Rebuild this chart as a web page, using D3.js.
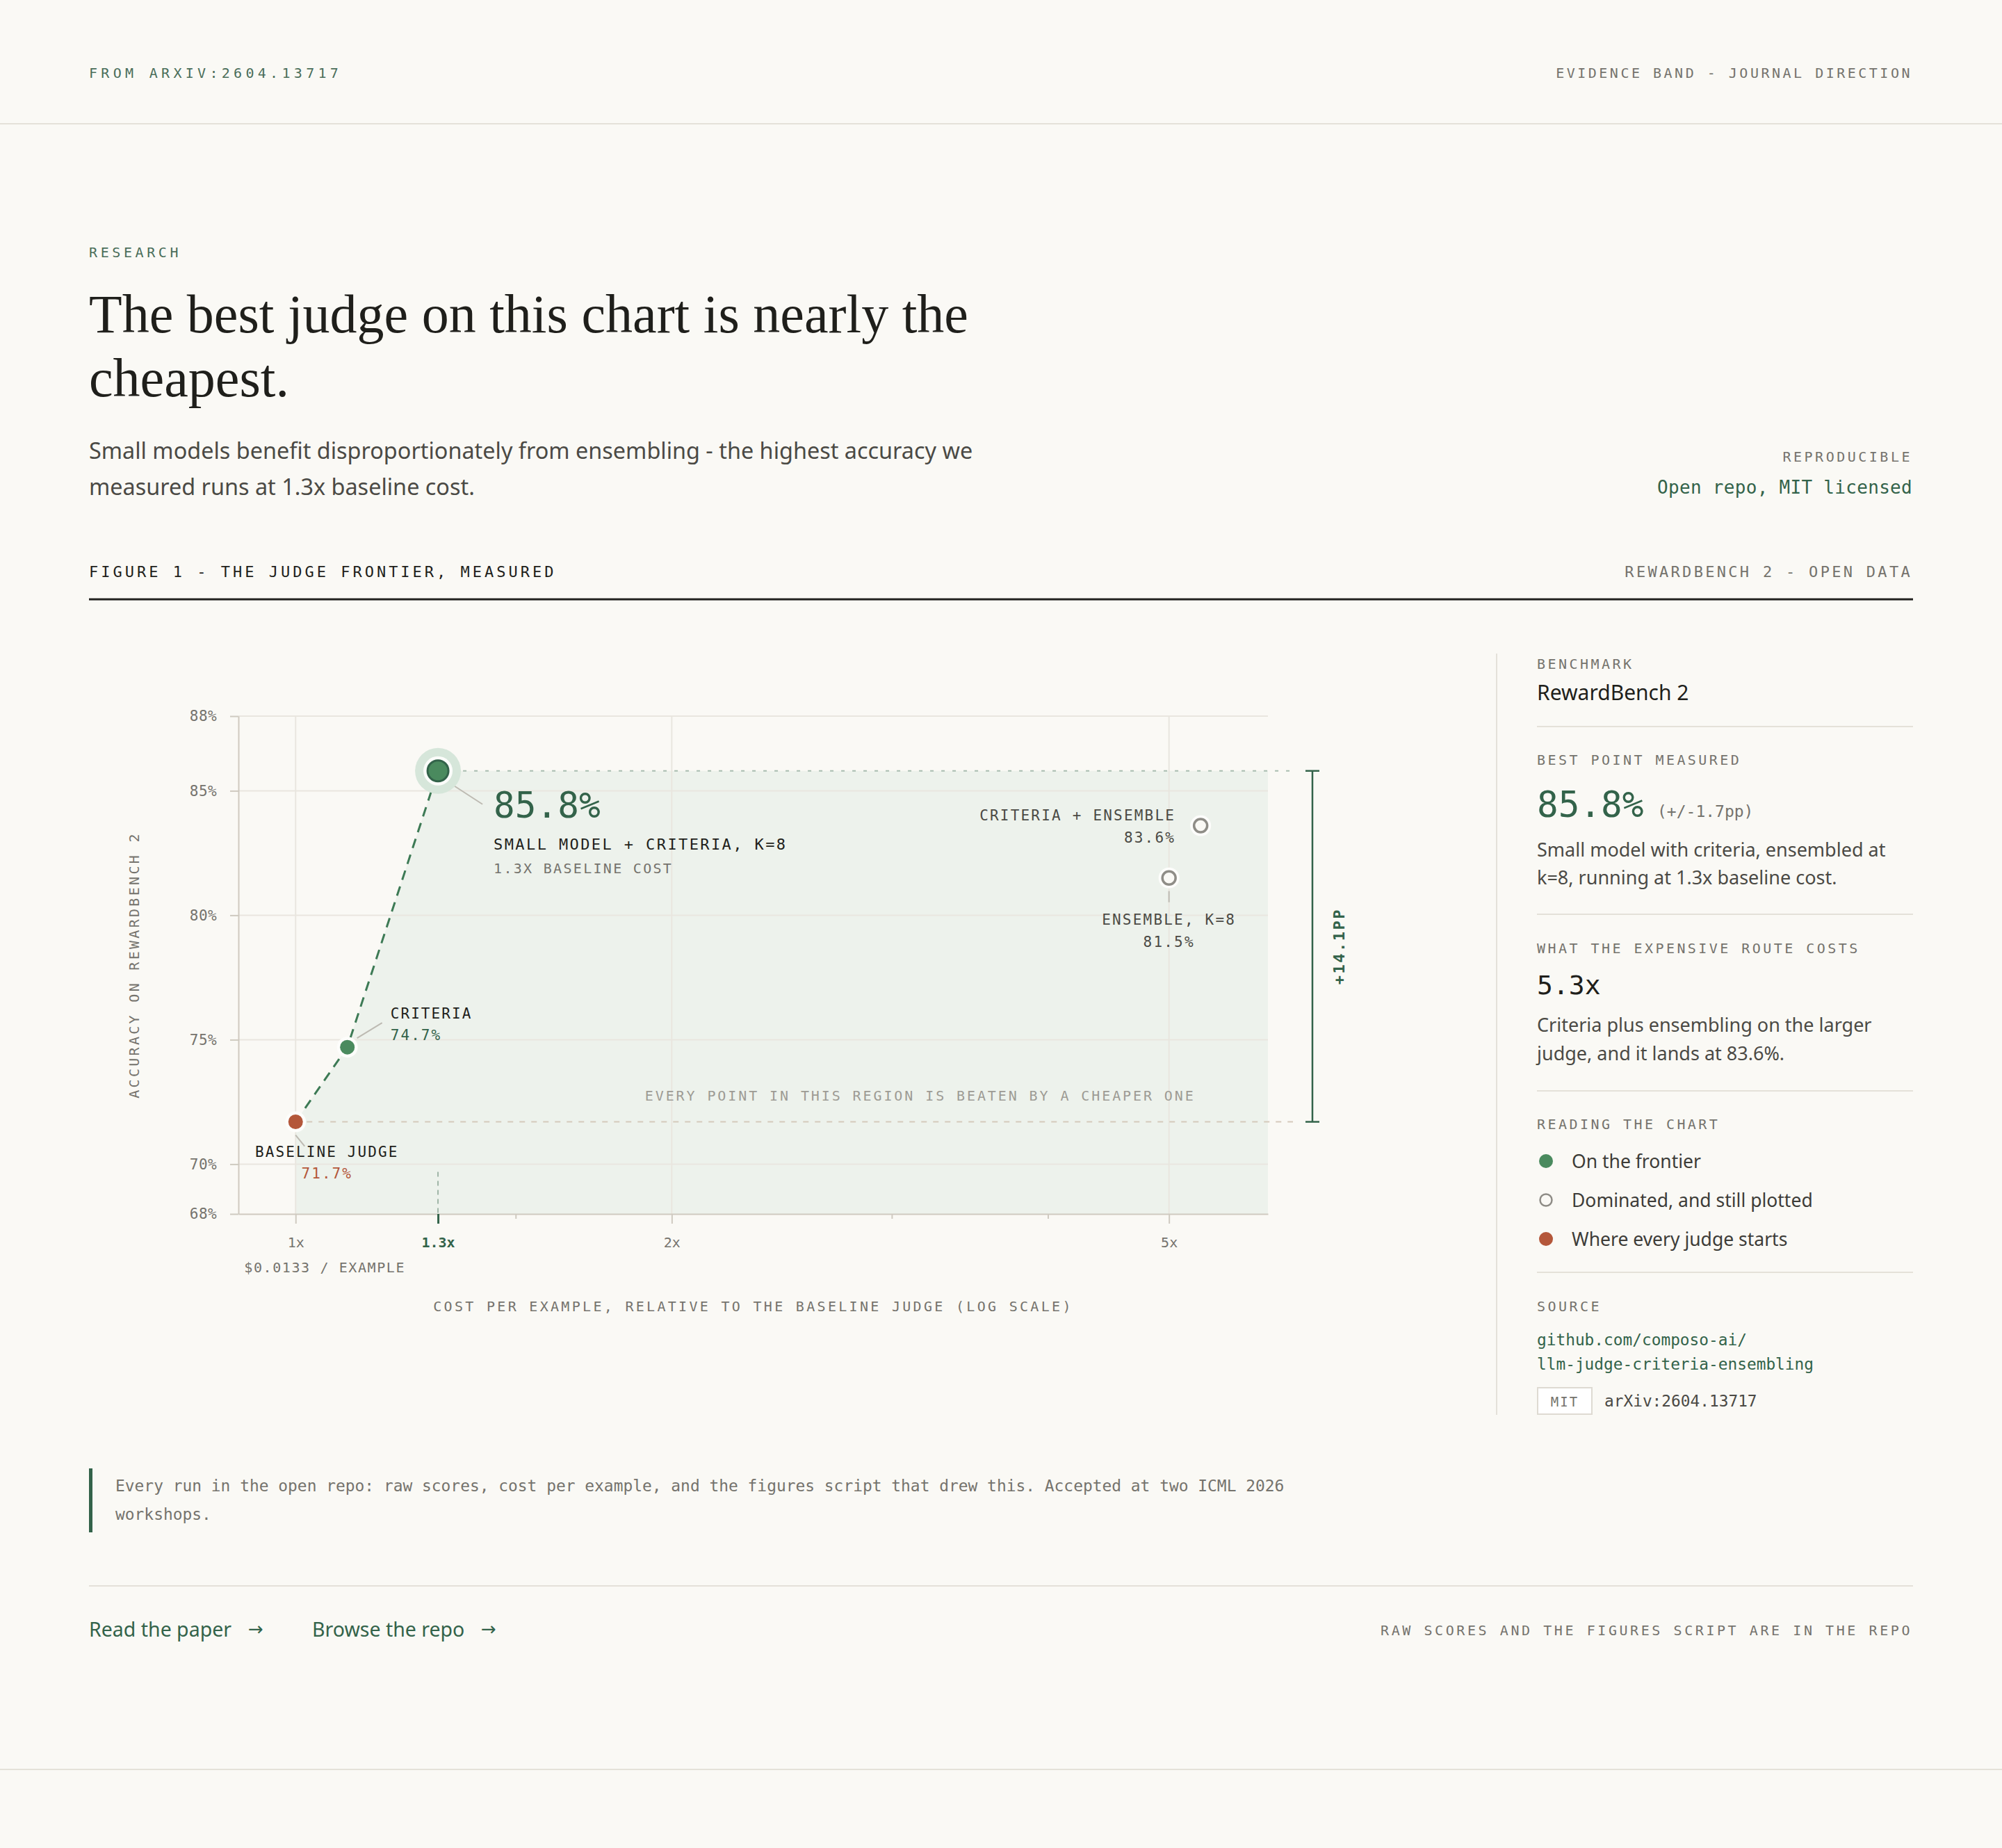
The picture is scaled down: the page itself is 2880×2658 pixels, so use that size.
<!DOCTYPE html>
<html><head><meta charset="utf-8">
<script src="https://cdn.jsdelivr.net/npm/d3@7"></script>
<style>
html,body{margin:0;padding:0;background:#faf9f5;}
svg{display:block;}
</style></head><body><div id="chart"></div>
<script>
// ---------- data ----------
const pointNames = ["BASELINE JUDGE", "CRITERIA", "SMALL MODEL + CRITERIA, K=8", "ENSEMBLE, K=8", "CRITERIA + ENSEMBLE"];
const pointCost = [1, 1.1, 1.3, 5, 5.3];
const pointAcc = [71.7, 74.7, 85.8, 81.5, 83.6];
const pointKind = ["baseline", "frontier", "best", "dominated", "dominated"];
const frontierIdx = [0, 1, 2];
const xTicks = [1, 1.3, 2, 5];
const xMinorTicks = [1.5, 3, 4];
const xGridTicks = [1, 2, 5];
const yTicks = [68, 70, 75, 80, 85, 88];
const xDomain = [0.9, 6];
const yDomain = [68, 88];
const legendLabels = ["On the frontier", "Dominated, and still plotted", "Where every judge starts"];
const legendKinds = ["frontier", "dominated", "baseline"];

// ---------- style ----------
const C = {
  bg: "#faf9f5", ink: "#1f1f1b", body: "#4b4a45", muted: "#75736d", faint: "#9d9b94",
  green: "#33634a", greenSoft: "#4a6e5a", dot: "#4a8a5e", rust: "#b4573a",
  rule: "#e4e1d9", grid: "#e9e6df", shade: "#edf2ec", halo: "#d6e6da", axis: "#cfcac0",
  hollow: "#8f8d87", leader: "#bdbab2"
};
const MONO = "'DejaVu Sans Mono', monospace";
const SANS = "'Noto Sans', Roboto, sans-serif";
const SERIF = "'Liberation Serif', serif";

const W = 2880, H = 2658;
const svg = d3.select("#chart").append("svg").attr("width", W).attr("height", H);
svg.append("rect").attr("width", W).attr("height", H).attr("fill", C.bg);

function t(g, x, y, s, o = {}) {
  return g.append("text").attr("x", x).attr("y", y).text(s)
    .attr("font-family", o.family || MONO)
    .attr("font-size", o.size || 20)
    .attr("fill", o.fill || C.ink)
    .attr("letter-spacing", o.ls || 0)
    .attr("font-weight", o.weight || 400)
    .attr("text-anchor", o.anchor || "start");
}
function hline(g, x1, x2, y, col, w) {
  g.append("line").attr("x1", x1).attr("x2", x2).attr("y1", y).attr("y2", y)
    .attr("stroke", col).attr("stroke-width", w);
}

// ---------- header ----------
const page = svg.append("g");
t(page, 128, 112, "FROM ARXIV:2604.13717", { size: 20, ls: 5.3, fill: C.greenSoft });
t(page, 2751, 112, "EVIDENCE BAND - JOURNAL DIRECTION", { size: 20, ls: 3.5, fill: C.muted, anchor: "end" });
hline(page, 0, W, 178, C.rule, 2);

t(page, 128, 370, "RESEARCH", { size: 20, ls: 4.6, fill: C.greenSoft });
t(page, 128, 478, "The best judge on this chart is nearly the", { size: 78, family: SERIF, fill: C.ink });
t(page, 128, 570, "cheapest.", { size: 78, family: SERIF, fill: C.ink });
t(page, 128, 660, "Small models benefit disproportionately from ensembling - the highest accuracy we", { size: 32.4, family: SANS, fill: C.body });
t(page, 128, 712, "measured runs at 1.3x baseline cost.", { size: 32.4, family: SANS, fill: C.body });

t(page, 2751, 664, "REPRODUCIBLE", { size: 20, ls: 3.5, fill: C.muted, anchor: "end" });
t(page, 2751, 710, "Open repo, MIT licensed", { size: 26, ls: 0.3, fill: C.green, anchor: "end" });

t(page, 128, 830, "FIGURE 1 - THE JUDGE FRONTIER, MEASURED", { size: 22, ls: 4, fill: C.ink });
t(page, 2751, 830, "REWARDBENCH 2 - OPEN DATA", { size: 22, ls: 3.3, fill: C.muted, anchor: "end" });
hline(page, 128, 2752, 862, "#222220", 3);

// ---------- chart ----------
const x = d3.scaleLog().domain(xDomain).range([343, 1824]);
const y = d3.scaleLinear().domain(yDomain).range([1746, 1030]);
const ch = svg.append("g");
const pts = pointCost.map((c, i) => ({ c, a: pointAcc[i], name: pointNames[i], kind: pointKind[i] }));
const P = i => [x(pointCost[i]), y(pointAcc[i])];
const best = pts[2], base = pts[0];

// dominated region
const region = frontierIdx.map(i => [pointCost[i], pointAcc[i]])
  .concat([[xDomain[1], best.a], [xDomain[1], yDomain[0]], [base.c, yDomain[0]]]);
ch.append("path").attr("d", d3.line().x(d => x(d[0])).y(d => y(d[1]))(region) + "Z")
  .attr("fill", C.shade);

// grid
ch.selectAll(".hg").data(yTicks.filter(v => v > yDomain[0])).join("line")
  .attr("x1", x(xDomain[0])).attr("x2", x(xDomain[1]))
  .attr("y1", d => y(d)).attr("y2", d => y(d)).attr("stroke", C.grid).attr("stroke-width", 2);
ch.selectAll(".vg").data(xGridTicks).join("line")
  .attr("x1", d => x(d)).attr("x2", d => x(d))
  .attr("y1", y(yDomain[1])).attr("y2", y(yDomain[0])).attr("stroke", C.grid).attr("stroke-width", 2);

// axes
const yAxis = ch.append("g").attr("transform", `translate(${x(xDomain[0])},0)`)
  .call(d3.axisLeft(y).tickValues(yTicks).tickFormat(d => d + "%").tickSize(12).tickSizeOuter(0).tickPadding(19));
yAxis.select(".domain").attr("stroke", C.axis).attr("stroke-width", 2);
yAxis.selectAll(".tick line").attr("stroke", C.axis).attr("stroke-width", 2);
yAxis.selectAll(".tick text").attr("font-family", MONO).attr("font-size", 21).attr("fill", C.muted)
  .attr("letter-spacing", 0.4);

const xAxis = ch.append("g").attr("transform", `translate(0,${y(yDomain[0])})`)
  .call(d3.axisBottom(x).tickValues(xTicks).tickFormat(d => d + "x").tickSize(14).tickSizeOuter(0).tickPadding(20));
xAxis.select(".domain").attr("stroke", C.axis).attr("stroke-width", 2);
xAxis.selectAll(".tick line").attr("stroke", C.axis).attr("stroke-width", 2);
xAxis.selectAll(".tick text").attr("font-family", MONO).attr("font-size", 20).attr("fill", C.muted);
xAxis.selectAll(".tick").filter(d => d === best.c).each(function () {
  d3.select(this).select("line").attr("stroke", C.green).attr("stroke-width", 3);
  d3.select(this).select("text").attr("fill", C.green).attr("font-weight", 700);
});
const xMinor = ch.append("g").attr("transform", `translate(0,${y(yDomain[0])})`)
  .call(d3.axisBottom(x).tickValues(xMinorTicks).tickFormat("").tickSize(7).tickSizeOuter(0));
xMinor.select(".domain").remove();
xMinor.selectAll(".tick line").attr("stroke", C.axis).attr("stroke-width", 2);

// 1.3x drop
ch.append("line").attr("x1", x(best.c)).attr("x2", x(best.c)).attr("y1", y(70) + 11).attr("y2", y(yDomain[0]))
  .attr("stroke", "#9fb5a7").attr("stroke-width", 2).attr("stroke-dasharray", "7 6");

// axis titles
t(ch, x(1) - 74, 1830, "$0.0133 / EXAMPLE", { size: 20, ls: 1.6, fill: C.muted });
t(ch, (x(xDomain[0]) + x(xDomain[1])) / 2, 1886, "COST PER EXAMPLE, RELATIVE TO THE BASELINE JUDGE (LOG SCALE)",
  { size: 20, ls: 3.3, fill: C.muted, anchor: "middle" });
t(ch, 0, 0, "ACCURACY ON REWARDBENCH 2", { size: 20, ls: 3.3, fill: C.muted, anchor: "middle" })
  .attr("transform", `translate(200,${(y(yDomain[0]) + y(yDomain[1])) / 2}) rotate(-90)`);

// reference lines
const refEnd = x(xDomain[1]) + 36;
ch.append("line").attr("x1", x(best.c) + 20).attr("x2", refEnd).attr("y1", y(best.a)).attr("y2", y(best.a))
  .attr("stroke", "#a9bdb0").attr("stroke-width", 2).attr("stroke-dasharray", "5 11");
ch.append("line").attr("x1", x(base.c) + 16).attr("x2", refEnd).attr("y1", y(base.a)).attr("y2", y(base.a))
  .attr("stroke", "#d5cabb").attr("stroke-width", 2).attr("stroke-dasharray", "8 9");

// bracket
const bx = x(xDomain[1]) + 64;
const br = ch.append("g").attr("stroke", C.green).attr("stroke-width", 2.5);
br.append("line").attr("x1", bx).attr("x2", bx).attr("y1", y(best.a)).attr("y2", y(base.a));
br.append("line").attr("x1", bx - 10).attr("x2", bx + 10).attr("y1", y(best.a)).attr("y2", y(best.a));
br.append("line").attr("x1", bx - 10).attr("x2", bx + 10).attr("y1", y(base.a)).attr("y2", y(base.a));
t(ch, 0, 0, "+" + d3.format(".1f")(best.a - base.a) + "PP", { size: 22, ls: 2.5, fill: C.green, anchor: "middle", weight: 700 })
  .attr("dominant-baseline", "middle")
  .attr("transform", `translate(${bx + 40},${(y(best.a) + y(base.a)) / 2}) rotate(-90)`);

t(ch, x(5) + 38, 1583, "EVERY POINT IN THIS REGION IS BEATEN BY A CHEAPER ONE", { size: 20, ls: 2.9, fill: C.faint, anchor: "end" });

// frontier line
ch.append("path").attr("d", d3.line().x(i => x(pointCost[i])).y(i => y(pointAcc[i]))(frontierIdx))
  .attr("fill", "none").attr("stroke", "#3d7a55").attr("stroke-width", 3).attr("stroke-dasharray", "14 10");

// leaders
function leader(x1, y1, x2, y2) {
  ch.append("line").attr("x1", x1).attr("y1", y1).attr("x2", x2).attr("y2", y2)
    .attr("stroke", C.leader).attr("stroke-width", 2);
}
{ const [px, py] = P(2); leader(px + 24, py + 22, px + 64, py + 48); }
{ const [px, py] = P(1); leader(px + 14, py - 13, px + 50, py - 35); }
{ const [px, py] = P(0); leader(px, py + 19, px + 13, py + 35); }
{ const [px, py] = P(3); leader(px, py + 19, px, py + 35); }

// points
pts.forEach((p, i) => {
  const [px, py] = P(i);
  if (p.kind === "best") {
    ch.append("circle").attr("cx", px).attr("cy", py).attr("r", 33).attr("fill", C.halo);
    ch.append("circle").attr("cx", px).attr("cy", py).attr("r", 21).attr("fill", "#fbfcfa");
    ch.append("circle").attr("cx", px).attr("cy", py).attr("r", 15).attr("fill", C.dot).attr("stroke", C.green).attr("stroke-width", 3);
  } else {
    ch.append("circle").attr("cx", px).attr("cy", py).attr("r", 15).attr("fill", "#fdfdfb");
    if (p.kind === "dominated")
      ch.append("circle").attr("cx", px).attr("cy", py).attr("r", 9.5).attr("fill", C.bg).attr("stroke", C.hollow).attr("stroke-width", 3.5);
    else
      ch.append("circle").attr("cx", px).attr("cy", py).attr("r", 10.5).attr("fill", p.kind === "baseline" ? C.rust : C.dot);
  }
});

// point labels
const pct = v => d3.format(".1f")(v) + "%";
{ const [px, py] = P(2);
  t(ch, px + 80, py + 67, pct(best.a), { size: 51, fill: C.green });
  t(ch, px + 80, py + 113, best.name, { size: 22, ls: 2.4, fill: C.ink });
  t(ch, px + 80, py + 147, "1.3X BASELINE COST", { size: 20, ls: 2.3, fill: C.muted }); }
{ const [px, py] = P(1);
  t(ch, px + 62, py - 41, pts[1].name, { size: 21, ls: 2.1, fill: C.ink });
  t(ch, px + 62, py - 10, pct(pts[1].a), { size: 21, ls: 2.1, fill: C.green }); }
{ const [px, py] = P(0);
  t(ch, px + 45, py + 50, base.name, { size: 21, ls: 2.1, fill: C.ink, anchor: "middle" });
  t(ch, px + 45, py + 81, pct(base.a), { size: 21, ls: 2.1, fill: C.rust, anchor: "middle" }); }
{ const [px, py] = P(4);
  t(ch, px - 36, py - 8, pts[4].name, { size: 21, ls: 2.2, fill: C.body, anchor: "end" });
  t(ch, px - 36, py + 24, pct(pts[4].a), { size: 21, ls: 2.2, fill: C.body, anchor: "end" }); }
{ const [px, py] = P(3);
  t(ch, px, py + 67, pts[3].name, { size: 21, ls: 2.2, fill: C.body, anchor: "middle" });
  t(ch, px, py + 99, pct(pts[3].a), { size: 21, ls: 2.2, fill: C.body, anchor: "middle" }); }

// ---------- right panel ----------
const rp = svg.append("g");
const rx = 2211, rEnd = 2752;
rp.append("line").attr("x1", 2153).attr("x2", 2153).attr("y1", 940).attr("y2", 2035).attr("stroke", C.rule).attr("stroke-width", 2);
const lab = { size: 20, ls: 3.45, fill: C.muted };
t(rp, rx, 962, "BENCHMARK", lab);
t(rp, rx, 1007, "RewardBench 2", { size: 30, family: SANS, fill: C.ink });
hline(rp, rx, rEnd, 1045, C.rule, 2);
t(rp, rx, 1100, "BEST POINT MEASURED", lab);
t(rp, rx, 1175, pct(best.a), { size: 51, fill: C.green });
t(rp, rx + 173, 1175, "(+/-1.7pp)", { size: 23, fill: C.muted });
t(rp, rx, 1232, "Small model with criteria, ensembled at", { size: 27, family: SANS, fill: C.body });
t(rp, rx, 1272, "k=8, running at 1.3x baseline cost.", { size: 27, family: SANS, fill: C.body });
hline(rp, rx, rEnd, 1315, C.rule, 2);
t(rp, rx, 1371, "WHAT THE EXPENSIVE ROUTE COSTS", lab);
t(rp, rx, 1430, pointCost[4] + "x", { size: 38, fill: C.ink });
t(rp, rx, 1484, "Criteria plus ensembling on the larger", { size: 27, family: SANS, fill: C.body });
t(rp, rx, 1525, "judge, and it lands at " + pct(pointAcc[4]) + ".", { size: 27, family: SANS, fill: C.body });
hline(rp, rx, rEnd, 1569, C.rule, 2);
t(rp, rx, 1624, "READING THE CHART", lab);
legendLabels.forEach((l, i) => {
  const cy = 1670 + i * 56;
  const k = legendKinds[i];
  if (k === "dominated")
    rp.append("circle").attr("cx", rx + 13).attr("cy", cy).attr("r", 8.5).attr("fill", C.bg).attr("stroke", C.hollow).attr("stroke-width", 2.5);
  else
    rp.append("circle").attr("cx", rx + 13).attr("cy", cy).attr("r", 10).attr("fill", k === "baseline" ? C.rust : C.dot);
  t(rp, rx + 50, cy + 10, l, { size: 26.5, family: SANS, fill: "#3d3c38" });
});
hline(rp, rx, rEnd, 1830, C.rule, 2);
t(rp, rx, 1886, "SOURCE", lab);
t(rp, rx, 1935, "github.com/composo-ai/", { size: 22.8, fill: C.green });
t(rp, rx, 1970, "llm-judge-criteria-ensembling", { size: 22.8, fill: C.green });
rp.append("rect").attr("x", rx + 1).attr("y", 1996).attr("width", 78).attr("height", 38)
  .attr("fill", "#ffffff").attr("stroke", "#dedad2").attr("stroke-width", 2);
t(rp, rx + 40, 2023, "MIT", { size: 19, ls: 2, fill: C.muted, anchor: "middle" });
t(rp, rx + 97, 2023, "arXiv:2604.13717", { size: 22.8, fill: C.body });

// ---------- footnote & footer ----------
const ft = svg.append("g");
ft.append("rect").attr("x", 128).attr("y", 2112).attr("width", 5).attr("height", 92).attr("fill", C.green);
t(ft, 166, 2145, "Every run in the open repo: raw scores, cost per example, and the figures script that drew this. Accepted at two ICML 2026", { size: 22.9, fill: C.muted });
t(ft, 166, 2186, "workshops.", { size: 22.9, fill: C.muted });
hline(ft, 128, 2752, 2281, C.rule, 2);
t(ft, 128, 2354, "Read the paper", { size: 28.5, family: SANS, fill: C.green });
t(ft, 357, 2352, "→", { size: 26, family: "'DejaVu Sans', sans-serif", fill: C.green });
t(ft, 449, 2354, "Browse the repo", { size: 28.5, family: SANS, fill: C.green });
t(ft, 692, 2352, "→", { size: 26, family: "'DejaVu Sans', sans-serif", fill: C.green });
t(ft, 2751, 2352, "RAW SCORES AND THE FIGURES SCRIPT ARE IN THE REPO", { size: 20, ls: 3.57, fill: C.muted, anchor: "end" });
hline(ft, 0, W, 2545, C.rule, 2);
</script></body></html>
